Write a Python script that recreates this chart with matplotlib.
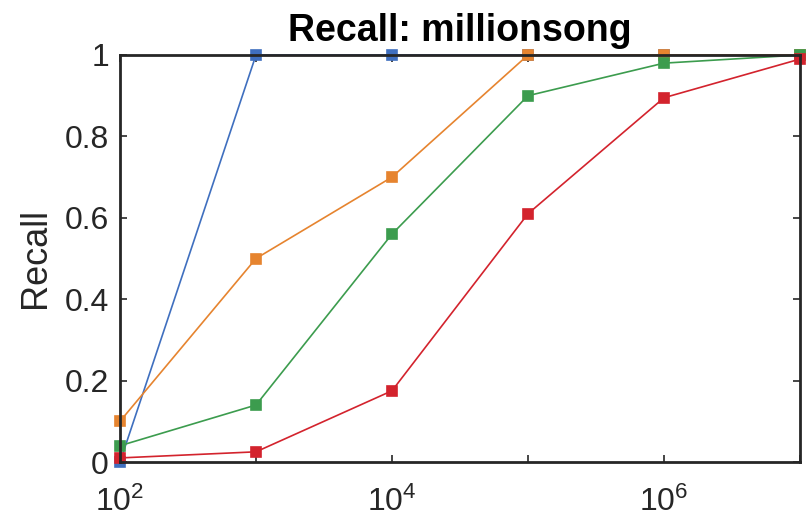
import matplotlib
matplotlib.use("Agg")
import matplotlib.pyplot as plt
from matplotlib.ticker import FixedLocator, FixedFormatter, NullLocator

plt.rcParams['font.family'] = ['Liberation Sans', 'DejaVu Sans']
plt.rcParams['mathtext.fontset'] = 'custom'
plt.rcParams['mathtext.rm'] = 'Liberation Sans'
plt.rcParams['mathtext.it'] = 'Liberation Sans'

x = [1e2, 1e3, 1e4, 1e5, 1e6, 1e7]
blue = [0.0, 1.0, 1.0, 1.0, 1.0, 1.0]
orange = [0.10, 0.50, 0.70, 1.0, 1.0, 1.0]
green = [0.04, 0.14, 0.56, 0.90, 0.98, 1.0]
red = [0.01, 0.025, 0.175, 0.61, 0.895, 0.99]
xtick_positions = [1e2, 1e3, 1e4, 1e5, 1e6, 1e7]
xticklabels = ['$10^{2}$', '', '$10^{4}$', '', '$10^{6}$', '']
yticks = [0, 0.2, 0.4, 0.6, 0.8, 1.0]
yticklabels = ['0', '0.2', '0.4', '0.6', '0.8', '1']

fig = plt.figure(figsize=(8.06, 5.18), dpi=100)
ax = fig.add_axes([120 / 806, 1 - 462 / 518, 680 / 806, 407 / 518])

series = [(blue, '#3F6FBF'), (orange, '#E6842F'), (green, '#3C9C4E'), (red, '#D3232D')]
for ys, c in series:
    ax.plot(x, ys, color=c, lw=1.2, marker='s', markersize=7, markeredgewidth=1.2,
            markeredgecolor=c, clip_on=False)

ax.set_xscale('log')
ax.set_xlim(1e2, 1e7)
ax.set_ylim(0, 1)
ax.xaxis.set_major_locator(FixedLocator(xtick_positions))
ax.xaxis.set_major_formatter(FixedFormatter(xticklabels))
ax.xaxis.set_minor_locator(NullLocator())
ax.set_yticks(yticks)
ax.set_yticklabels(yticklabels)
ax.tick_params(direction='in', length=5, width=1.2, labelsize=23, top=True, right=True, colors='#262626')
ax.tick_params(axis='x', pad=18)
ax.tick_params(axis='y', pad=8)
for s in ax.spines.values():
    s.set_linewidth(2)
    s.set_color('#262626')
ax.set_ylabel('Recall', fontsize=26, color='#262626', va='center', ha='center')
ax.yaxis.set_label_coords((36 - 120) / 680, 0.5)
ax.set_title('Recall: millionsong', fontsize=27, fontweight='bold', pad=10)

fig.savefig('out.png', dpi=100)
